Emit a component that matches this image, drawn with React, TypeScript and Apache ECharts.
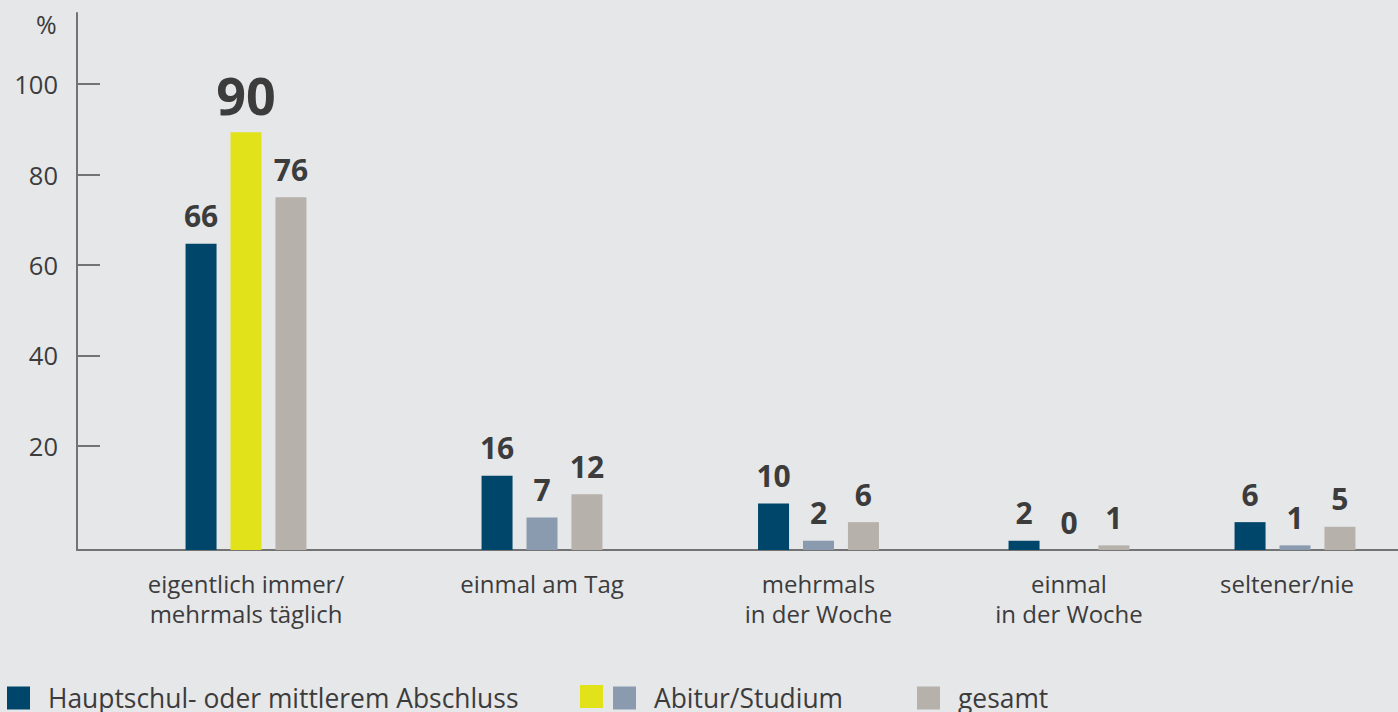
import React, { useEffect, useRef } from "react";
import * as echarts from "echarts";

// ---- data ----
const categories = [
  "eigentlich immer/\nmehrmals täglich",
  "einmal am Tag",
  "mehrmals\nin der Woche",
  "einmal\nin der Woche",
  "seltener/nie",
];
const seriesNames = ["Hauptschul- oder mittlerem Abschluss", "Abitur/Studium", "gesamt"];
const hauptschul = [66, 16, 10, 2, 6];
const abitur = [90, 7, 2, 0, 1];
const gesamt = [76, 12, 6, 1, 5];
const yTickLabels = [20, 40, 60, 80, 100];
const highlightIndex = 0; // Abitur bar of the first category is highlighted

// ---- styles / layout ----
const BG = "#e6e7e9";
const TEXT = "#3c3c3c";
const AXIS = "#737373";
const COLORS = ["#00466a", "#8a9bb0", "#b6b1aa"];
const HIGHLIGHT = "#e2e21a";
const FONT = "'Open Sans', 'Noto Sans', sans-serif";
const GROUP_CENTERS = [246, 542, 818.5, 1069, 1295];
const LABEL_SHIFT = [0, 0, 0, 0, 16];
const GROUP_WIDTH = 190;
const TOP = 13;
const BOTTOM = 162;
const BAR_MAX = 115.7;

export default function App() {
  const ref = useRef<HTMLDivElement>(null);

  useEffect(() => {
    document.body.style.margin = "0";
    const chart = echarts.init(ref.current!, undefined, { renderer: "svg" });
    const values = [hauptschul, abitur, gesamt];

    const grids: any[] = [{ left: 77, right: 0, top: TOP, bottom: BOTTOM }];
    const xAxes: any[] = [
      {
        type: "value",
        gridIndex: 0,
        min: 0,
        max: 1,
        axisLine: { show: true, onZero: false, lineStyle: { color: AXIS, width: 2 } },
        axisTick: { show: false },
        axisLabel: { show: false },
        splitLine: { show: false },
      },
    ];
    const yAxes: any[] = [
      {
        type: "value",
        gridIndex: 0,
        min: -3,
        max: 115.7,
        axisLine: { show: true, onZero: false, lineStyle: { color: AXIS, width: 2 } },
        axisTick: {
          show: true,
          inside: true,
          length: 23,
          customValues: yTickLabels,
          lineStyle: { color: AXIS, width: 2 },
        },
        axisLabel: {
          show: true,
          customValues: yTickLabels,
          margin: 19,
          fontSize: 25.5,
          color: TEXT,
          fontFamily: FONT,
        },
        splitLine: { show: false },
      },
    ];
    const series: any[] = [];

    categories.forEach((cat, i) => {
      const gi = i + 1;
      grids.push({
        left: GROUP_CENTERS[i] - GROUP_WIDTH / 2,
        width: GROUP_WIDTH,
        top: TOP,
        bottom: BOTTOM,
      });
      xAxes.push({
        type: "category",
        gridIndex: gi,
        data: [cat],
        axisLine: { show: false },
        axisTick: { show: false },
        axisLabel: {
          show: true,
          margin: 18,
          fontSize: 24,
          lineHeight: 30,
          color: TEXT,
          fontFamily: FONT,
          interval: 0,
          padding: [0, LABEL_SHIFT[i], 0, 0],
        },
      });
      yAxes.push({
        type: "value",
        gridIndex: gi,
        min: 0,
        max: BAR_MAX,
        show: false,
      });
      seriesNames.forEach((name, j) => {
        const v = values[j][i];
        const isHi = j === 1 && i === highlightIndex;
        series.push({
          type: "bar",
          name,
          xAxisIndex: gi,
          yAxisIndex: gi,
          barWidth: 31,
          barGap: "45%",
          itemStyle: { color: COLORS[j] },
          label: {
            show: true,
            position: "top",
            distance: 13,
            fontSize: 30,
            fontWeight: "bold",
            color: TEXT,
            fontFamily: FONT,
          },
          data: [
            isHi
              ? {
                  value: v,
                  itemStyle: { color: HIGHLIGHT },
                  label: { fontSize: 52, distance: 12 },
                }
              : v,
          ],
        });
      });
    });

    const legendBase = {
      top: 685,
      padding: 0,
      icon: "rect",
      itemWidth: 23,
      itemHeight: 23,
      selectedMode: false,
      textStyle: { fontSize: 26.4, color: TEXT, fontFamily: FONT, padding: [0, 0, 0, 13] },
    };

    chart.setOption({
      animation: false,
      backgroundColor: BG,
      grid: grids,
      xAxis: xAxes,
      yAxis: yAxes,
      series,
      legend: [
        { ...legendBase, left: 7, data: [seriesNames[0]] },
        { ...legendBase, left: 613, data: [seriesNames[1]] },
        { ...legendBase, left: 917, data: [seriesNames[2]] },
      ],
      graphic: [
        {
          type: "rect",
          left: 580,
          top: 685,
          shape: { width: 23, height: 23 },
          style: { fill: HIGHLIGHT },
        },
        {
          type: "text",
          left: 36,
          top: 11,
          style: { text: "%", fontSize: 25, fill: TEXT, fontFamily: FONT },
        },
      ],
    });

    return () => chart.dispose();
  }, []);

  return (
    <div
      ref={ref}
      style={{ position: "absolute", left: 0, top: 0, width: 1398, height: 712, background: BG }}
    />
  );
}
